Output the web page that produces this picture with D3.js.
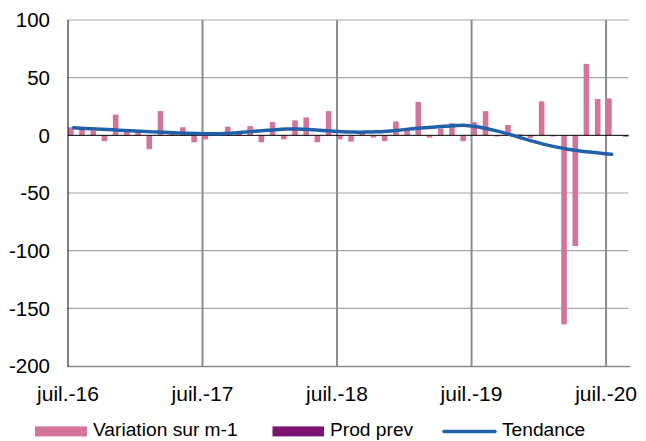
<!DOCTYPE html>
<html>
<head>
<meta charset="utf-8">
<script src="https://cdn.jsdelivr.net/npm/d3@7"></script>
<style>
  html, body { margin: 0; padding: 0; background: #fff; }
  svg { display: block; font-family: "Liberation Sans", Arial, sans-serif; }
</style>
</head>
<body>
<svg id="chart" width="646" height="441"></svg>
<script>
const months = [
  "2016-07","2016-08","2016-09","2016-10","2016-11","2016-12",
  "2017-01","2017-02","2017-03","2017-04","2017-05","2017-06",
  "2017-07","2017-08","2017-09","2017-10","2017-11","2017-12",
  "2018-01","2018-02","2018-03","2018-04","2018-05","2018-06",
  "2018-07","2018-08","2018-09","2018-10","2018-11","2018-12",
  "2019-01","2019-02","2019-03","2019-04","2019-05","2019-06",
  "2019-07","2019-08","2019-09","2019-10","2019-11","2019-12",
  "2020-01","2020-02","2020-03","2020-04","2020-05","2020-06",
  "2020-07","2020-08"
];
const variation = [
  7, 5, 4, -5, 18, 4, 3, -12, 21, 2, 7, -6,
  -3.5, 1, 7.5, 2, 8, -6, 11.5, -3.5, 13, 15.5, -6, 21,
  -3.5, -5.5, 2, -2, -5, 12, 6, 29, -2, 6, 10.5, -5,
  11.5, 21, -1, 9, 1, -2.5, 29.5, -1, -164, -96, 62, 31.5,
  32, null
];
const prodPrev = [
  null, null, null, null, null, null, null, null, null, null, null, null,
  null, null, null, null, null, null, null, null, null, null, null, null,
  null, null, null, null, null, null, null, null, null, null, null, null,
  null, null, null, null, null, null, null, null, null, null, null, null,
  null, -1
];
const tendance = [
  6.5, 6.0, 5.5, 5.0, 4.5, 4.0, 3.5, 3.0, 2.6, 2.2, 1.9, 1.6,
  1.4, 1.4, 1.8, 2.6, 3.4, 4.2, 4.9, 5.4, 5.5, 5.1, 4.4, 3.7,
  3.1, 2.8, 2.8, 3.0, 3.6, 4.5, 5.4, 6.3, 7.1, 7.8, 8.4, 8.6,
  7.5, 5.5, 3.2, 0.5, -2.4, -5.2, -7.8, -10.0, -11.9, -13.3, -14.5, -15.5,
  -16.4, null
];
const xTickMonths = ["2016-07","2017-07","2018-07","2019-07","2020-07"];
const xTickLabels = ["juil.-16","juil.-17","juil.-18","juil.-19","juil.-20"];
const yTicks = [-200, -150, -100, -50, 0, 50, 100];
const seriesNames = ["Variation sur m-1", "Prod prev", "Tendance"];

const colors = { variation: "#d4749b", prod: "#7b1470", trend: "#2260ab" };

const svg = d3.select("#chart");
const pLeft = 68, pRight = 628.5, pTop = 20, pBottom = 366;

const x = d3.scaleBand().domain(months).range([pLeft, pRight]).paddingInner(0).paddingOuter(0);
const y = d3.scaleLinear().domain([-200, 100]).range([pBottom, pTop]);
const bw = x.bandwidth();

// horizontal gridlines
svg.append("g").selectAll("line").data(yTicks.filter(d => d !== 0 && d !== -200)).join("line")
  .attr("x1", pLeft).attr("x2", pRight)
  .attr("y1", d => y(d)).attr("y2", d => y(d))
  .attr("stroke", "#a6a6a6").attr("stroke-width", 1.2);

// bottom axis line
svg.append("line").attr("x1", pLeft).attr("x2", pRight + 2)
  .attr("y1", y(-200) + 0.5).attr("y2", y(-200) + 0.5)
  .attr("stroke", "#8a8a8a").attr("stroke-width", 1.5);

// vertical gridlines at year ticks
svg.append("g").selectAll("line").data(xTickMonths.slice(1)).join("line")
  .attr("x1", d => x(d)).attr("x2", d => x(d))
  .attr("y1", pTop).attr("y2", pBottom)
  .attr("stroke", "#8c8c8c").attr("stroke-width", 2);

// bars: variation (left half of band)
svg.append("g").selectAll("rect").data(months.map((m, i) => ({m, v: variation[i]})).filter(d => d.v !== null)).join("rect")
  .attr("x", d => x(d.m))
  .attr("width", bw / 2)
  .attr("y", d => y(Math.max(0, d.v)))
  .attr("height", d => Math.abs(y(d.v) - y(0)))
  .attr("fill", colors.variation);

// bars: prod prev (right half of band)
svg.append("g").selectAll("rect").data(months.map((m, i) => ({m, v: prodPrev[i]})).filter(d => d.v !== null)).join("rect")
  .attr("x", d => x(d.m) + bw / 2)
  .attr("width", bw / 2)
  .attr("y", d => y(Math.max(0, d.v)))
  .attr("height", d => Math.abs(y(d.v) - y(0)))
  .attr("fill", colors.prod);

// zero line
svg.append("line").attr("x1", pLeft).attr("x2", pRight)
  .attr("y1", y(0)).attr("y2", y(0))
  .attr("stroke", "#000").attr("stroke-width", 1);

// left axis line
svg.append("line").attr("x1", pLeft).attr("x2", pLeft)
  .attr("y1", pTop).attr("y2", pBottom + 1)
  .attr("stroke", "#000").attr("stroke-width", 1);

// trend line
const trendData = months.map((m, i) => ({m, v: tendance[i]})).filter(d => d.v !== null);
svg.append("path").datum(trendData)
  .attr("d", d3.line().x(d => x(d.m) + bw / 2).y(d => y(d.v)).curve(d3.curveCatmullRom.alpha(0.5)))
  .attr("fill", "none").attr("stroke", colors.trend).attr("stroke-width", 3.5)
  .attr("stroke-linecap", "round").attr("stroke-linejoin", "round");

// y labels
svg.append("g").selectAll("text").data(yTicks).join("text")
  .attr("x", 50).attr("y", d => y(d)).attr("dy", "0.36em")
  .attr("text-anchor", "end").attr("font-size", 20.5).attr("fill", "#000")
  .text(d => d);

// x labels
svg.append("g").selectAll("text").data(xTickMonths).join("text")
  .attr("x", d => x(d)).attr("y", 400.5)
  .attr("text-anchor", "middle").attr("font-size", 21).attr("fill", "#000")
  .text((d, i) => xTickLabels[i]);

// legend
const lg = svg.append("g");
const ly = 436.2;
lg.append("rect").attr("x", 35).attr("y", ly - 9.8).attr("width", 52).attr("height", 10).attr("fill", colors.variation);
lg.append("text").attr("x", 93).attr("y", ly).attr("font-size", 19.2).text(seriesNames[0]);
lg.append("rect").attr("x", 272.5).attr("y", ly - 9.8).attr("width", 51.5).attr("height", 10).attr("fill", colors.prod);
lg.append("text").attr("x", 330).attr("y", ly).attr("font-size", 19.2).text(seriesNames[1]);
lg.append("line").attr("x1", 444).attr("x2", 495).attr("y1", ly - 4.8).attr("y2", ly - 4.8)
  .attr("stroke", colors.trend).attr("stroke-width", 3.5).attr("stroke-linecap", "round");
lg.append("text").attr("x", 502).attr("y", ly).attr("font-size", 19.2).text(seriesNames[2]);
</script>
</body>
</html>
